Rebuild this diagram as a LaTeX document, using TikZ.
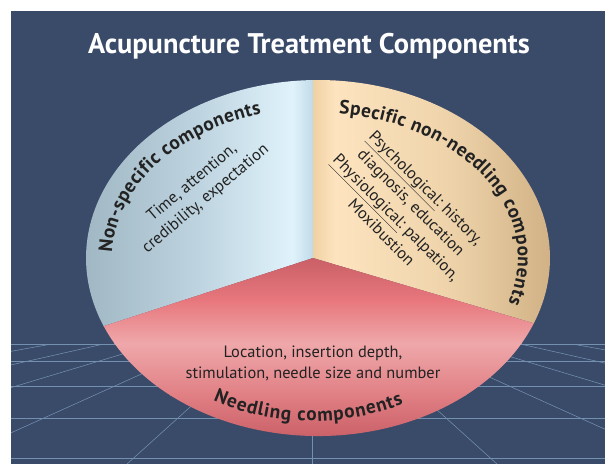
\documentclass[tikz,border=0pt]{standalone}
\usepackage{fontspec}
\setmainfont{PT Sans}
\usetikzlibrary{calc,decorations.text}

\definecolor{bgblue}{HTML}{3A4A69}
\definecolor{gridline}{HTML}{7390B0}
\definecolor{txtdark}{HTML}{222222}

\newcommand\hdrfont{\fontsize{19.3}{22}\selectfont\bfseries\color{txtdark}}

\begin{document}
\begin{tikzpicture}[x=1pt, y=-1pt,
  grid/.style={draw=gridline, line width=0.55pt},
  inner/.style={font=\fontsize{16.4}{21}\selectfont, text=txtdark, align=center, inner sep=0pt},
  curved/.style={decorate, decoration={text along path, text align=fit to path}}
]
\useasboundingbox (0,0) rectangle (605,464);
\fill[bgblue] (11,11) rectangle (605,464);

%% Floor grid behind the pie
\begin{scope}
  \clip (11,344) rectangle (605,464);
  \foreach \y in {344,361,386,418,458} {
    \draw[grid] (11,\y) -- (605,\y);
  }
  \foreach \k in {-7,...,7} {
    \draw[grid] ({312+\k*185/167*47},344) -- ({312+\k*185},464);
  }
\end{scope}

\node[font=\fontsize{28.4}{32}\selectfont\bfseries, text=white] (title) at (309,46) {Acupuncture Treatment Components};

%% Pie: centre, top and the two lower split points
\coordinate (o) at (318,258);
\coordinate (c) at (313,258);
\path (o) ++(268.8:232 and 178) coordinate (top);

%% Non-specific (blue)
\begin{scope}
  \clip (c) -- (top) arc[start angle=268.8, end angle=157.5, x radius=232, y radius=178] -- cycle;
  \shade[left color={rgb,255:red,159;green,182;blue,195}, right color={rgb,255:red,190;green,212;blue,224}] (80,70) rectangle (200.5,340);
  \shade[left color={rgb,255:red,190;green,212;blue,224}, right color={rgb,255:red,224;green,243;blue,251}] (200,70) rectangle (292.5,340);
  \shade[left color={rgb,255:red,224;green,243;blue,251}, right color={rgb,255:red,190;green,218;blue,231}] (292,70) rectangle (314,340);
\end{scope}

%% Specific non-needling (orange)
\begin{scope}
  \clip (c) -- (top) arc[start angle=-91.2, end angle=21.5, x radius=232, y radius=178] -- cycle;
  \shade[left color={rgb,255:red,240;green,208;blue,162}, right color={rgb,255:red,253;green,228;blue,191}] (312,70) rectangle (335.5,340);
  \shade[left color={rgb,255:red,253;green,228;blue,191}, right color={rgb,255:red,238;green,211;blue,170}] (335,70) rectangle (450.5,340);
  \shade[left color={rgb,255:red,238;green,211;blue,170}, right color={rgb,255:red,208;green,176;blue,132}] (450,70) rectangle (555,340);
\end{scope}

%% Needling (red)
\begin{scope}
  \clip (c) -- ($(o)+(157.5:232 and 178)$) arc[start angle=157.5, end angle=21.5, x radius=232, y radius=178] -- cycle;
  \shade[top color={rgb,255:red,197;green,91;blue,99}, bottom color={rgb,255:red,231;green,119;blue,125}] (80,250) rectangle (560,300.5);
  \shade[top color={rgb,255:red,231;green,119;blue,125}, bottom color={rgb,255:red,239;green,168;blue,170}] (80,300) rectangle (560,343.5);
  \shade[top color={rgb,255:red,239;green,168;blue,170}, bottom color={rgb,255:red,224;green,127;blue,132}] (80,343) rectangle (560,395.5);
  \shade[top color={rgb,255:red,224;green,127;blue,132}, bottom color={rgb,255:red,201;green,95;blue,102}] (80,395) rectangle (560,440);
\end{scope}

%% Curved headings
\path[curved, shift={(o)}, decoration={text={|\hdrfont|Non-specific components}}]
  (182:206 and 150) arc[start angle=182, end angle=254, x radius=206, y radius=150];
\path[curved, shift={(o)}, decoration={text={|\hdrfont|Specific non-needling components}}]
  (-84:200 and 145) arc[start angle=-84, end angle=18, x radius=200, y radius=145];
\path[curved, shift={(312,258)}, decoration={text={|\hdrfont|Needling components}}]
  (119:204 and 163) arc[start angle=119, end angle=63.4, x radius=204, y radius=163];

%% Texts inside the slices
\node[inner, rotate=40] (nstext) at (199,191) {Time, attention,\\credibility, expectation};
\node[inner, rotate=-45] (sptext) at (404,210) {\underline{Psychological:} history,\\diagnosis, education\\\underline{Physiological:} palpation,\\Moxibustion};
\node[inner] (ndtext) at (313,363) {Location, insertion depth,\\stimulation, needle size and number};
\end{tikzpicture}
\end{document}
